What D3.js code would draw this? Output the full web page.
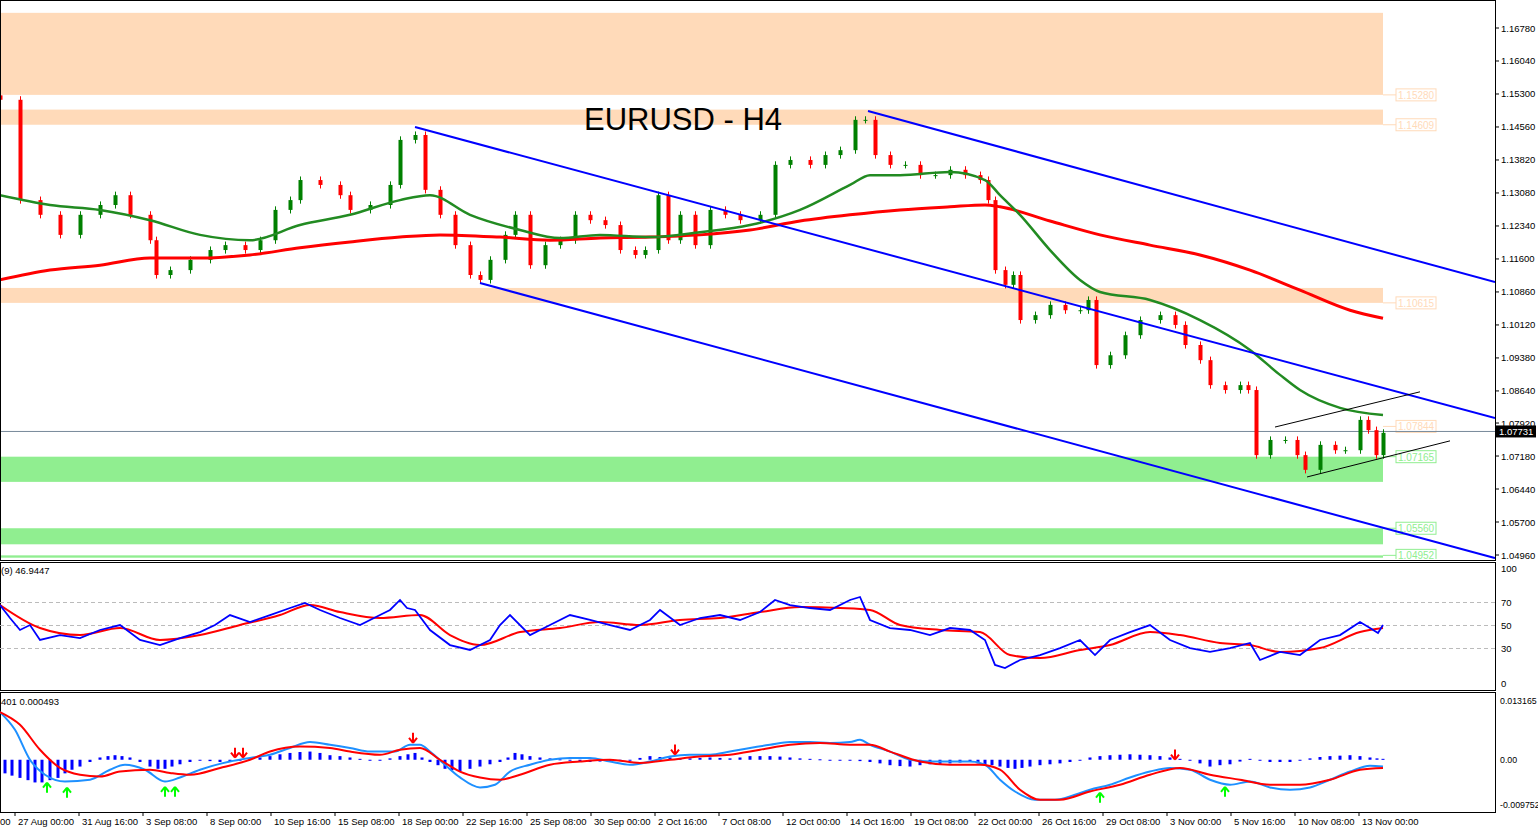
<!DOCTYPE html><html><head><meta charset="utf-8">
<script src="https://cdn.jsdelivr.net/npm/d3@7"></script>
<style>body{margin:0;background:#fff}svg{display:block;font-family:"Liberation Sans",Arial,sans-serif}</style></head><body>
<svg id="c" width="1538" height="829"></svg>
<script>
const candleT=[0,20,40,60,80,100,115,130,150,156,170,190,210,225,245,260,275,290,300,320,340,350,370,390,400,415,425,440,455,470,480,490,505,515,530,545,560,575,590,605,620,635,645,658,668,680,695,710,725,740,760,775,790,810,825,840,855,865,875,890,905,920,935,950,965,980,988,995,1005,1013,1020,1035,1050,1065,1080,1088,1096,1110,1125,1140,1160,1175,1185,1200,1210,1225,1240,1248,1256,1270,1285,1297,1305,1320,1335,1345,1360,1368,1376,1383];
const closes=[1.1517,1.1292,1.1259,1.1214,1.1259,1.1281,1.1303,1.1259,1.1202,1.1124,1.1135,1.1158,1.1180,1.1191,1.1180,1.1202,1.1270,1.1292,1.1337,1.1326,1.1303,1.1270,1.1281,1.1326,1.1427,1.1438,1.1315,1.1259,1.1191,1.1124,1.1113,1.1158,1.1214,1.1259,1.1146,1.1191,1.1202,1.1259,1.1247,1.1236,1.1180,1.1169,1.1180,1.1303,1.1202,1.1259,1.1191,1.1270,1.1259,1.1247,1.1259,1.1371,1.1382,1.1371,1.1393,1.1404,1.1472,1.1472,1.1393,1.1371,1.1371,1.1348,1.1348,1.1360,1.1348,1.1337,1.1292,1.1135,1.1102,1.1124,1.1023,1.1034,1.1057,1.1045,1.1045,1.1068,1.0922,1.0944,1.0989,1.1023,1.1034,1.1012,1.0967,1.0933,1.0877,1.0866,1.0877,1.0866,1.0720,1.0754,1.0754,1.0720,1.0687,1.0743,1.0731,1.0731,1.0799,1.0776,1.0720,1.0770];
const ma50=[[0,1.1303],[50,1.1281],[100,1.1270],[150,1.1247],[200,1.1214],[250,1.1202],[300,1.1236],[350,1.1259],[400,1.1292],[430,1.1303],[470,1.1259],[520,1.1225],[560,1.1207],[600,1.1214],[650,1.1209],[700,1.1220],[750,1.1236],[800,1.1270],[850,1.1326],[870,1.1348],[900,1.1348],[950,1.1355],[985,1.1337],[1000,1.1303],[1020,1.1259],[1050,1.1180],[1080,1.1113],[1100,1.1086],[1150,1.1068],[1200,1.1023],[1250,1.0956],[1280,1.0900],[1300,1.0866],[1340,1.0826],[1383,1.0810]];
const ma200=[[0,1.1113],[50,1.1135],[100,1.1146],[150,1.1162],[200,1.1162],[250,1.1169],[300,1.1185],[350,1.1198],[400,1.1209],[440,1.1214],[500,1.1209],[550,1.1202],[600,1.1207],[650,1.1209],[700,1.1214],[750,1.1225],[800,1.1245],[850,1.1259],[900,1.1270],[950,1.1277],[985,1.1281],[1000,1.1277],[1050,1.1245],[1100,1.1214],[1150,1.1191],[1200,1.1169],[1250,1.1135],[1300,1.1090],[1350,1.1045],[1383,1.1027]];
const priceTicks=[1.16780,1.16040,1.15300,1.14560,1.13820,1.13080,1.12340,1.11600,1.10860,1.10120,1.09380,1.08640,1.07920,1.07180,1.06440,1.05700,1.04960];
const zonesOrange=[[1.1528,1.1712,"1.15280"],[1.1461,1.1495,"1.14609"],[1.10615,1.1095,"1.10615"]];
const zonesGreen=[[1.06600,1.07165,"1.07165"],[1.05200,1.05560,"1.05560"],[1.04900,1.04952,"1.04952"]];
const orangeLabel2=["1.07844",1.07844];
const channels=[[[415,1.1456],[1495,1.0803]],[[480,1.1106],[1495,1.0489]],[[868,1.1492],[1495,1.1108]]];
const wedge=[[[1275,1.0783],[1420,1.0862]],[[1307,1.0671],[1450,1.0752]]];
const lastPrice=1.07731;
const rsiBlue=[[0,67.8],[10,56.5],[20,46.1],[30,50.4],[40,37.4],[60,41.7],[80,39.1],[100,46.1],[120,50.4],[140,37.4],[160,33.0],[180,39.1],[200,44.3],[215,50.4],[230,59.1],[250,53.0],[270,59.1],[290,65.2],[305,69.6],[320,63.5],[340,56.5],[360,50.4],[380,59.1],[390,63.5],[400,72.2],[407,65.2],[415,63.5],[430,46.1],[450,33.0],[470,28.7],[490,37.4],[500,50.4],[510,59.1],[530,41.7],[550,50.4],[570,59.1],[590,54.8],[610,50.4],[630,46.1],[650,54.8],[660,63.5],[680,50.4],[700,56.5],[720,59.1],[740,54.8],[760,61.7],[775,72.2],[790,67.8],[810,65.2],[830,63.5],[850,72.2],[860,74.8],[870,54.8],[890,47.8],[910,46.1],[930,41.7],[950,47.8],[970,46.1],[985,37.4],[995,15.7],[1005,13.0],[1020,20.0],[1040,24.3],[1060,30.4],[1080,37.4],[1095,24.3],[1110,37.4],[1130,44.3],[1150,50.4],[1170,37.4],[1190,30.4],[1210,27.0],[1230,30.4],[1250,34.8],[1260,20.0],[1280,27.0],[1300,24.3],[1320,37.4],[1340,41.7],[1360,53.0],[1370,47.8],[1378,43.5],[1383,50.4]];
const rsiRed=[[0,67.8],[40,47.8],[80,41.7],[120,47.8],[160,37.4],[200,41.7],[240,50.4],[280,59.1],[310,67.8],[340,61.7],[380,56.5],[420,59.1],[450,41.7],[480,33.0],[520,44.3],[560,47.8],[600,53.0],[640,50.4],[680,54.8],[720,56.5],[760,61.7],[800,66.1],[840,65.2],[870,63.5],[900,50.4],[940,46.1],[980,44.3],[1010,24.3],[1040,21.7],[1080,28.7],[1110,33.0],[1150,44.3],[1180,41.7],[1220,34.8],[1250,33.0],[1280,27.0],[1320,30.4],[1360,44.3],[1383,47.8]];
const rsiLevels=[70,50,30];
const macdMain=[[0,10.5],[15,6.6],[30,0],[45,-3.3],[65,-4.8],[90,-4.4],[110,-2.2],[125,-1.1],[145,-2.2],[165,-4.8],[180,-3.9],[200,-2.2],[230,-0.4],[250,0.4],[270,1.1],[290,2.6],[310,3.9],[330,3.3],[350,2.6],[370,1.8],[395,1.8],[410,3.3],[420,3.3],[430,1.8],[445,-1.1],[460,-3.9],[480,-6.1],[495,-5.5],[510,-2.6],[530,-1.1],[550,0],[570,0.4],[590,0.4],[610,-0.4],[630,-1.1],[650,-0.4],[670,0.7],[690,1.1],[710,1.1],[730,1.8],[750,2.6],[770,3.3],[790,3.9],[810,3.9],[830,3.7],[850,3.9],[860,4.4],[870,3.3],[890,1.8],[910,0],[930,-0.4],[970,-0.4],[985,-1.1],[1000,-4.4],[1015,-7.0],[1035,-8.8],[1055,-8.8],[1075,-7.7],[1090,-6.6],[1110,-5.5],[1130,-3.9],[1150,-2.6],[1170,-1.8],[1190,-2.2],[1210,-4.4],[1230,-5.5],[1250,-4.8],[1270,-6.1],[1290,-6.6],[1310,-6.1],[1330,-4.4],[1350,-2.6],[1370,-1.3],[1383,-1.5]];
const macdSignal=[[0,10.5],[20,7.7],[40,2.2],[60,-1.8],[80,-3.3],[100,-3.7],[120,-2.6],[150,-2.2],[170,-2.9],[190,-3.3],[220,-1.8],[250,0],[270,1.8],[300,2.9],[330,2.6],[350,1.8],[380,1.1],[400,2.2],[420,2.6],[440,0],[460,-2.6],[480,-3.9],[500,-4.4],[520,-3.3],[550,-1.1],[580,-0.4],[610,0],[640,-0.7],[670,0],[700,0.7],[730,1.1],[760,2.2],[790,3.3],[820,3.7],[850,3.3],[870,3.3],[890,1.8],[920,-0.4],[950,-1.1],[980,-1.1],[1000,-2.2],[1020,-6.6],[1040,-8.8],[1060,-8.8],[1090,-7.0],[1120,-5.5],[1150,-3.3],[1180,-1.8],[1210,-3.3],[1240,-4.4],[1270,-5.5],[1300,-5.5],[1330,-4.4],[1360,-2.2],[1383,-1.8]];
const macdHist=[[5,-3],[12,-3.5],[20,-4],[28,-4.5],[35,-5],[42,-5],[50,-4.5],[58,-4],[65,-3],[72,-2.2],[80,-1.5],[90,-0.5],[100,0.5],[108,0.8],[115,1],[122,0.8],[130,0.5],[140,-0.5],[150,-1.5],[158,-2],[165,-2],[172,-1.5],[180,-1],[190,-0.5],[200,0],[210,-0.3],[220,-0.5],[230,-0.3],[240,0],[250,0.3],[260,0.5],[270,0.8],[280,1.2],[290,1.5],[300,1.7],[310,1.8],[320,1.5],[330,1],[340,0.8],[350,0.5],[360,0.2],[370,0],[380,-0.2],[390,0.3],[400,0.8],[408,1.2],[415,1.5],[422,0.5],[430,-0.5],[438,-1.2],[445,-2],[452,-2.3],[460,-2.5],[470,-2],[480,-1.5],[490,-1],[500,-0.5],[508,0.5],[515,1.5],[522,1.2],[530,0.8],[540,0.5],[550,0.3],[560,0.1],[570,0],[580,-0.3],[590,-0.5],[600,-0.4],[610,-0.3],[620,-0.1],[630,0],[640,0.4],[650,0.8],[660,0.6],[670,0.5],[680,0.4],[690,0.3],[700,0.4],[710,0.5],[720,0.4],[730,0.3],[740,0.5],[750,0.8],[760,0.8],[770,0.8],[780,0.7],[790,0.5],[800,0.3],[810,0.2],[820,0.1],[830,0],[840,-0.1],[850,-0.2],[860,-0.3],[870,-0.5],[880,-0.8],[890,-1.2],[900,-1.4],[910,-1.5],[920,-1.2],[930,-1],[940,-0.9],[950,-0.8],[960,-0.6],[970,-0.5],[978,-0.8],[985,-1],[992,-1.2],[1000,-1.5],[1008,-1.8],[1015,-2],[1022,-1.8],[1030,-1.5],[1040,-1.2],[1050,-1],[1060,-0.8],[1070,-0.5],[1080,0],[1090,0.5],[1100,0.8],[1110,1],[1120,1.1],[1130,1.2],[1140,1.1],[1150,1],[1160,0.8],[1170,0.5],[1180,0.2],[1190,-0.2],[1200,-0.8],[1210,-1.5],[1220,-1.2],[1230,-1],[1240,-0.4],[1250,0.2],[1260,-0.2],[1270,-0.5],[1280,-0.5],[1290,-0.5],[1300,-0.1],[1310,0.3],[1320,0.6],[1330,0.8],[1340,0.9],[1350,1],[1360,0.8],[1370,0.5],[1377,0.3],[1383,0.2]];
const upArrows=[[47,-4.4],[67,-5.5],[165,-5.3],[175,-5.3],[1100,-6.6],[1225,-5.3]];
const downArrows=[[235,0],[243,0],[413,3.3],[675,0.7],[1175,-0.4]];
const timeTicks=[[-3,"00"],[15,"27 Aug 00:00"],[79,"31 Aug 16:00"],[143,"3 Sep 08:00"],[207,"8 Sep 00:00"],[271,"10 Sep 16:00"],[335,"15 Sep 08:00"],[399,"18 Sep 00:00"],[463,"22 Sep 16:00"],[527,"25 Sep 08:00"],[591,"30 Sep 00:00"],[655,"2 Oct 16:00"],[719,"7 Oct 08:00"],[783,"12 Oct 00:00"],[847,"14 Oct 16:00"],[911,"19 Oct 08:00"],[975,"22 Oct 00:00"],[1039,"26 Oct 16:00"],[1103,"29 Oct 08:00"],[1167,"3 Nov 00:00"],[1231,"5 Nov 16:00"],[1295,"10 Nov 08:00"],[1359,"13 Nov 00:00"]];

const svg=d3.select("#c"), R=1495, FS=9.5;
const x=d3.scaleLinear().domain([0,1495]).range([0,R]);
const y=d3.scaleLinear().domain([1.04960,1.16780]).range([555,28]);
const yR=d3.scaleLinear().domain([0,100]).range([683,568]);
const yM=d3.scaleLinear().domain([-9.752,13.165]).range([804,700]);
svg.append("defs").append("clipPath").attr("id","cp").append("rect").attr("x",0).attr("y",1).attr("width",R).attr("height",558);
const P=svg.append("g").attr("clip-path","url(#cp)");
zonesOrange.forEach(z=>{P.append("rect").attr("x",0).attr("width",1383).attr("y",y(z[1])).attr("height",y(z[0])-y(z[1])).attr("fill","#ffdab9");});
zonesGreen.forEach(z=>{P.append("rect").attr("x",0).attr("width",1383).attr("y",y(z[1])).attr("height",Math.max(2,y(z[0])-y(z[1]))).attr("fill","#90ee90");});
function zl(v,t,col){P.append("line").attr("x1",1383).attr("x2",1396).attr("y1",y(v)).attr("y2",y(v)).attr("stroke",col);
 P.append("rect").attr("x",1396).attr("y",y(v)-6).attr("width",40).attr("height",12).attr("fill","#fff").attr("stroke",col);
 P.append("text").attr("x",1398).attr("y",y(v)+4).attr("font-size",10).attr("fill",col).text(t);}
zonesOrange.forEach(z=>zl(z[0],z[2],"#ffdab9"));zl(orangeLabel2[1],orangeLabel2[0],"#ffdab9");
zonesGreen.forEach(z=>zl(z[1],z[2],"#90ee90"));
P.append("line").attr("x1",0).attr("x2",R).attr("y1",y(lastPrice)).attr("y2",y(lastPrice)).attr("stroke","#778899");
closes.forEach((c,i)=>{const o=i?closes[i-1]:c+0.001;const hi=Math.max(o,c)+0.0008,lo=Math.min(o,c)-0.0008;const cx=Math.round(x(candleT[i]))+0.5;const col=c>=o?"#008000":"#ff0000";
 P.append("line").attr("x1",cx).attr("x2",cx).attr("y1",y(hi)).attr("y2",y(lo)).attr("stroke",col);
 P.append("rect").attr("x",cx-2).attr("width",4).attr("y",y(Math.max(o,c))).attr("height",Math.max(1,Math.abs(y(o)-y(c)))).attr("fill",col);});
const ln=d3.line().x(d=>x(d[0])).curve(d3.curveMonotoneX);
P.append("path").attr("d",ln.y(d=>y(d[1]))(ma200)).attr("fill","none").attr("stroke","#ff0000").attr("stroke-width",3);
P.append("path").attr("d",ln.y(d=>y(d[1]))(ma50)).attr("fill","none").attr("stroke","#228b22").attr("stroke-width",2.5);
channels.forEach(c=>P.append("line").attr("x1",x(c[0][0])).attr("y1",y(c[0][1])).attr("x2",x(c[1][0])).attr("y2",y(c[1][1])).attr("stroke","#0000ff").attr("stroke-width",2));
wedge.forEach(c=>P.append("line").attr("x1",x(c[0][0])).attr("y1",y(c[0][1])).attr("x2",x(c[1][0])).attr("y2",y(c[1][1])).attr("stroke","#000"));
P.append("text").attr("x",683).attr("y",130).attr("text-anchor","middle").attr("font-size",31).text("EURUSD - H4");
[[0,560],[562,690],[692,812]].forEach(p=>svg.append("rect").attr("x",0.5).attr("y",p[0]+0.5).attr("width",R).attr("height",p[1]-p[0]).attr("fill","none").attr("stroke","#000"));
priceTicks.forEach(v=>{svg.append("line").attr("x1",R).attr("x2",R+4).attr("y1",y(v)).attr("y2",y(v)).attr("stroke","#000");
 svg.append("text").attr("x",R+6).attr("y",y(v)+3.5).attr("font-size",FS).text(v.toFixed(5));});
svg.append("rect").attr("x",R+1).attr("y",y(lastPrice)-6).attr("width",40).attr("height",12).attr("fill","#000");
svg.append("text").attr("x",R+4).attr("y",y(lastPrice)+3.5).attr("font-size",FS).attr("fill","#fff").text(lastPrice.toFixed(5));
const G=svg.append("g");
rsiLevels.forEach(l=>{G.append("line").attr("x1",0).attr("x2",R).attr("y1",yR(l)).attr("y2",yR(l)).attr("stroke","#bbb").attr("stroke-dasharray","4,3");
 G.append("text").attr("x",R+6).attr("y",yR(l)+3.5).attr("font-size",FS).text(l);});
[100,0].forEach(l=>G.append("text").attr("x",R+6).attr("y",yR(l)+3.5).attr("font-size",FS).text(l));
G.append("path").attr("d",ln.y(d=>yR(d[1]))(rsiRed)).attr("fill","none").attr("stroke","#ff0000").attr("stroke-width",2);
G.append("path").attr("d",d3.line().x(d=>x(d[0])).y(d=>yR(d[1]))(rsiBlue)).attr("fill","none").attr("stroke","#0000ff").attr("stroke-width",1.8);
G.append("text").attr("x",1).attr("y",574).attr("font-size",FS).text("(9) 46.9447");
macdHist.forEach(h=>G.append("rect").attr("x",x(h[0])-1.5).attr("width",3).attr("y",Math.min(yM(0),yM(h[1]))).attr("height",Math.max(1,Math.abs(yM(h[1])-yM(0)))).attr("fill","#0000ff"));
G.append("path").attr("d",ln.y(d=>yM(d[1]))(macdMain)).attr("fill","none").attr("stroke","#1e90ff").attr("stroke-width",2);
G.append("path").attr("d",ln.y(d=>yM(d[1]))(macdSignal)).attr("fill","none").attr("stroke","#ff0000").attr("stroke-width",2);
upArrows.forEach(a=>{const cx=x(a[0]),t=yM(a[1])+3;G.append("path").attr("d",`M${cx},${t} L${cx-4},${t+5} M${cx},${t} L${cx+4},${t+5} M${cx},${t} L${cx},${t+10}`).attr("stroke","#00ff00").attr("stroke-width",2).attr("fill","none");});
downArrows.forEach(a=>{const cx=x(a[0]),b=yM(a[1])-2;G.append("path").attr("d",`M${cx},${b} L${cx-4},${b-5} M${cx},${b} L${cx+4},${b-5} M${cx},${b} L${cx},${b-10}`).attr("stroke","#ff0000").attr("stroke-width",2).attr("fill","none");});
[[13.165,"0.013165"],[0,"0.00"],[-9.752,"-0.009752"]].forEach(t=>G.append("text").attr("x",R+5).attr("y",yM(t[0])+3.5).attr("font-size",8.8).text(t[1]));
G.append("text").attr("x",1).attr("y",705).attr("font-size",FS).text("401 0.000493");
timeTicks.forEach(t=>{G.append("line").attr("x1",x(t[0])).attr("x2",x(t[0])).attr("y1",812).attr("y2",816).attr("stroke","#000");
 G.append("text").attr("x",Math.max(0,x(t[0])+3)).attr("y",825).attr("font-size",FS).text(t[1]);});
</script></body></html>
